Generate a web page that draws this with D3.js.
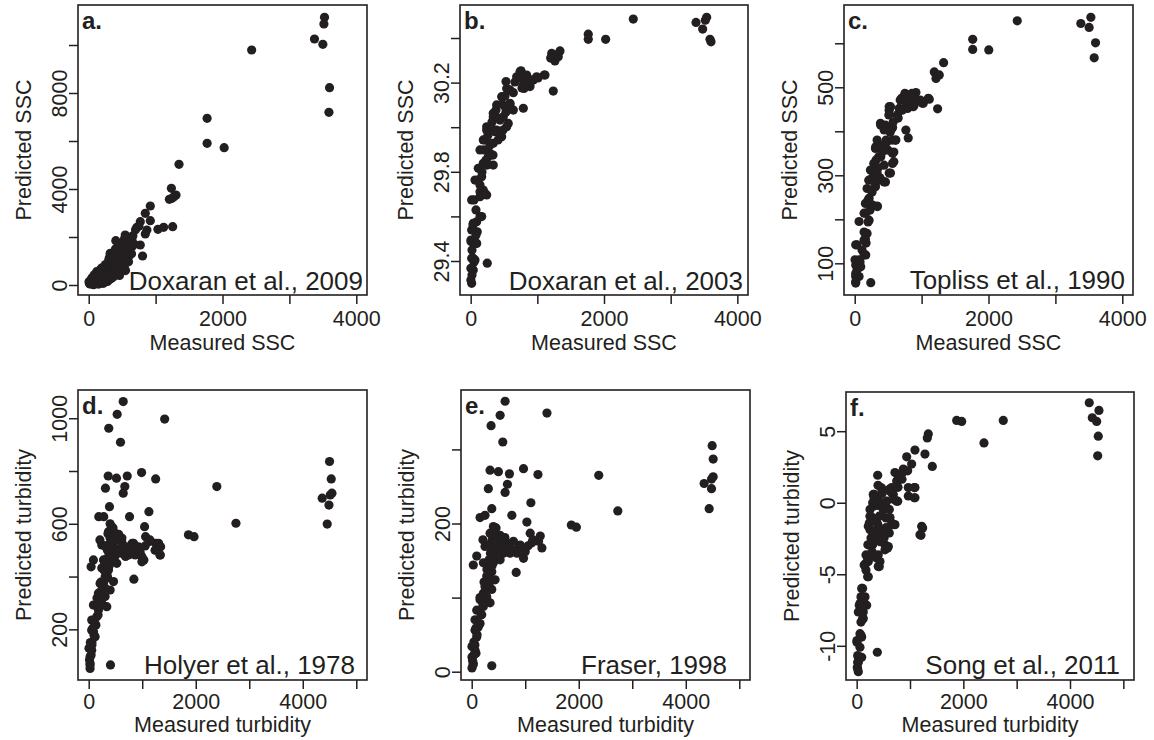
<!DOCTYPE html>
<html>
<head>
<meta charset="utf-8">
<script src="https://cdn.jsdelivr.net/npm/d3@7"></script>
<style>
  body { margin: 0; background: #ffffff; }
  svg { display: block; }
  text { font-family: "Liberation Sans", Arial, Helvetica, sans-serif; fill: #231f20; }
</style>
</head>
<body>
<svg id="chart" width="1154" height="740"></svg>
<script>
// ---- Measured vs predicted pairs, one list per algorithm ----
const doxaran2009 = [
  [3525,11154],[3516,10875],[3375,10250],[3500,10029],[2436,9792],[3600,8221],[3591,7196],
  [1770,6946],[1770,5904],[2025,5721],[1350,5029],
  [1236,4029],[1245,3613],[1305,3750],[1206,3571],[1275,3680],
  [921,3292],[846,2988],[771,2638],[921,2679],[720,2404],[870,2292],[846,2125],[1035,2321],[1120,2404],[1255,2429],
  [546,2083],[645,1904],[405,1846],[570,1738],[771,1667],[805,1208],[321,1321],[495,1458],[445,1113],[595,971],
  [520,763],[345,833],[220,696],[396,554],[471,554],[145,488],[246,417],[96,346],[45,279],[5,138],[21,42],[145,138],
  [295,208],[220,71],[370,346],[70,10],[171,279],[445,696],[120,554],[270,625],
  [400,1500],[450,1300],[380,1100],[500,1200],[350,950],[300,900],[420,850],[260,550],[330,620],[200,400],[160,350],
  [120,250],[60,180],[30,80],[90,120],[180,160],[250,280],[310,420],[40,200],[10,60],[110,50],[150,40],[200,100],
  [280,150],[340,280],[520,1050],[600,1200],[480,1700],[700,2300],[750,2450],[650,1600],[560,1350],
  [20,150],[50,100],[60,300],[80,420],[100,200],[130,380],[160,600],[180,250],[210,500],[230,760],[260,150],
  [270,400],[290,700],[300,1050],[320,250],[340,600],[360,1200],[380,450],[410,700],[430,1000],[440,1600],
  [460,400],[480,900],[510,1550],[530,1900],[550,600],[570,1100],[600,1500],[620,1800],[640,1300],[660,2050],
  [680,1700],[540,850],[470,1250],[390,1400],[310,1150],[250,850],[190,700],[110,400],[75,250]
];
const doxaran2003 = [
  [2439,30.485],[3380,30.470],[3540,30.493],[3520,30.480],[3480,30.440],[3590,30.394],[3605,30.383],
  [1764,30.417],[1764,30.394],[2025,30.394],
  [1340,30.342],[1215,30.331],[1264,30.297],[1314,30.316],[1239,30.162],[1104,30.234],[990,30.226],
  [755,30.253],[840,30.234],[890,30.182],[800,30.174],[940,30.212],[690,30.226],[790,30.085],[740,30.249],[790,30.189],[890,30.197],
  [530,30.205],[540,30.174],[640,30.155],[465,30.137],[390,30.100],[590,30.107],[640,30.077],[515,30.092],[564,30.017],
  [540,30.002],[339,30.062],[365,29.980],[240,30.002],[339,29.928],[189,29.943],[140,29.898],[264,29.868],[339,29.830],
  [189,29.838],[114,29.816],[65,29.763],[189,29.718],[240,29.696],[140,29.711],[15,29.674],[165,29.599],[90,29.576],
  [39,29.569],[99,29.531],[5,29.494],[90,29.479],[15,29.412],[65,29.404],[249,29.390],[3,29.367],[39,29.360],[3,29.315],[15,29.300],
  [490,30.137],[590,30.100],[339,30.047],[490,30.047],[240,29.987],[390,29.987],[465,29.957],[215,29.943],[315,29.928],
  [290,29.883],[240,29.838],[165,29.778],[140,29.688],[215,29.703],[140,29.599],[15,29.539],[5,29.487],[65,29.479],
  [39,29.412],[15,29.367],[1200,30.310],[1290,30.325],
  [110,29.763],[170,29.799],[230,29.853],[200,29.898],[290,29.920],[260,29.965],[350,29.987],[320,30.023],
  [410,30.041],[380,30.077],[470,30.104],[515,30.140],[590,30.167],[440,30.032],[530,30.068],[485,29.987],
  [410,29.943],[335,29.875],[245,29.830],[140,29.741],[665,30.203],[740,30.221],[815,30.203],[890,30.212],
  [770,30.176],[1010,30.221],[1115,30.234],[50,29.674],[80,29.629],[35,29.561],[80,29.517],[20,29.449],
  [50,29.396],[20,29.337]
];
const topliss1990 = [
  [2430,651],[3380,645],[3530,659],[3504,636],[3600,601],[3580,567],
  [1764,609],[1764,586],[2004,585],
  [1329,556],[1190,535],[1264,528],[1215,520],[1239,451],[1115,473],[1014,464],
  [915,488],[765,483],[715,471],[790,452],[890,460],[665,452],[515,448],[640,437],[765,403],[800,385],[515,456],
  [390,414],[440,403],[565,409],[565,380],[615,380],[565,350],[565,327],[515,305],[315,365],[390,342],[440,285],
  [340,229],[215,248],[165,214],[215,198],[65,195],[165,168],[140,153],[15,142],[165,119],[65,108],[5,108],[15,70],[240,56],[15,55],
  [750,486],[825,483],[855,486],[700,475],[850,468],[875,456],[775,460],[1025,464],[1100,475],[535,456],[510,437],
  [635,437],[385,418],[460,414],[560,407],[610,380],[335,380],[485,376],[310,361],[435,361],[585,353],[360,342],
  [285,327],[585,331],[235,312],[335,305],[535,305],[210,289],[360,289],[460,285],[185,270],[310,274],[160,236],
  [260,233],[335,230],[140,214],[185,168],[160,155],[35,142],[140,119],[15,96],[90,92],[15,77],[65,70],[15,58],
  [35,85],[80,103],[110,130],[170,146],[140,171],[200,194],[230,221],[200,244],[260,262],[305,278],[380,294],
  [260,294],[350,317],[440,323],[320,335],[410,353],[500,357],[470,380],[530,398],[380,369],[575,421],[650,430],
  [710,448],[800,466],[900,476],[680,471],[980,471],[755,485]
];
const holyer1978 = [
  [645,1063],[532,1015],[1419,997],[375,962],[594,909],
  [364,781],[519,773],[720,781],[988,794],[1251,770],[313,735],[675,741],[645,716],[2394,741],
  [388,665],[188,627],[281,627],[763,627],[1125,646],[1044,589],[2751,602],
  [4457,599],[4500,836],[4532,770],[4363,697],[4513,709],[4545,716],[4489,671],
  [1864,558],[1969,551],[1063,551],[1125,532],[1251,526],[1344,513],[1332,482],[814,526],[844,494],[969,482],
  [1031,463],[688,476],[844,390],[407,65],
  [431,589],[369,570],[495,564],[401,545],[525,539],[619,532],[244,520],[369,520],[463,513],[589,507],[713,513],
  [838,526],[932,513],[431,488],[619,488],[744,482],[870,482],[994,475],[994,456],[1307,526],[1338,482],
  [88,463],[45,437],[276,463],[431,456],[525,450],[244,432],[369,425],[307,399],[463,381],[276,362],[401,349],
  [307,324],[244,299],[338,286],[88,292],[182,273],[56,235],[150,248],[56,197],[120,172],[5,128],[56,121],
  [26,96],[26,71],[26,52],[213,374],[182,337],[244,349],
  [400,600],[450,520],[350,500],[520,500],[300,450],[350,400],[280,380],[200,300],[120,220],[90,190],[30,150],
  [60,150],[15,85],[350,470],[500,480],[560,560],[420,500],
  [25,65],[45,103],[60,141],[100,178],[135,216],[80,205],[175,254],[210,292],[155,319],[265,326],[305,357],
  [230,379],[340,395],[285,425],[380,440],[325,463],[415,478],[455,508],[545,493],[640,516],[305,516],[210,539],
  [435,539],[530,554],[620,546],[360,562],[455,584],[735,500],[870,508],[960,493],[1055,516],[1145,539],[1240,500]
];
const fraser1998 = [
  [624,365],[531,346],[362,332],[1406,349],[581,310],
  [343,272],[499,270],[705,267],[968,274],[1238,266],[2374,265],[311,247],[668,253],[624,242],[1106,228],
  [375,220],[156,208],[249,211],[750,211],[1031,202],[2730,217],[1862,198],[1956,195],[405,196],
  [4493,305],[4512,287],[4512,263],[4481,260],[4343,254],[4481,247],[4437,220],
  [343,187],[469,183],[375,176],[531,174],[656,174],[249,169],[780,176],[906,171],[1093,187],[1281,183],
  [1312,167],[437,165],[593,160],[718,160],[844,160],[1000,162],[968,153],[1125,174],[1249,176],[94,156],
  [30,144],[218,147],[405,147],[531,151],[831,134],
  [375,135],[281,129],[437,124],[249,115],[375,111],[281,101],[343,93],[218,88],[94,83],[187,77],[62,70],
  [156,65],[62,56],[94,47],[5,34],[62,29],[5,20],[30,11],[5,5],[375,8],[218,106],[156,97],
  [400,180],[460,170],[350,160],[300,140],[330,120],[250,100],[120,60],[40,40],[80,25],[15,15],
  [25,9],[45,23],[60,36],[100,50],[135,63],[80,59],[175,77],[210,90],[155,100],[265,102],[305,113],[230,121],
  [340,127],[285,138],[380,143],[325,151],[415,157],[455,167],[545,162],[640,170],[305,170],[210,178],[435,178],
  [530,184],[620,181],[360,186],[455,194],[735,165],[870,167],[960,162],[1055,170],[1145,178]
];
const song2011 = [
  [4361,6.99],[4543,6.45],[4418,5.94],[4500,5.68],[4530,4.65],[4519,3.28],[2749,5.75],[1875,5.75],[1969,5.68],[2387,4.18],
  [1343,4.81],[1324,4.53],[1281,3.40],[1418,2.54],[1093,3.68],[938,3.21],[1031,2.70],[875,2.35],[718,2.11],[812,1.87],
  [968,1.06],[1093,1.06],[968,0.47],[1093,0.35],[1219,-1.65],[1187,-2.23],
  [394,1.92],[469,0.99],[656,1.06],[750,1.52],[686,0.58],[750,0.11],[311,0.58],[405,0.23],[563,0.11],[311,-0.24],
  [499,-0.47],[656,-1.41],[718,-1.53],[249,-0.94],[375,-1.18],[218,-1.65],[437,-1.88],[311,-2.23],[469,-2.35],
  [280,-2.82],[531,-2.94],[593,-3.06],[531,-3.29],[249,-3.64],[405,-3.64],[218,-4.11],[405,-4.46],[437,-4.11],
  [174,-4.70],[218,-5.17],[94,-5.99],[156,-6.58],[62,-7.04],[187,-7.16],[124,-7.63],[31,-7.63],[124,-8.10],
  [62,-9.15],[5,-9.63],[94,-9.39],[62,-10.10],[387,-10.45],[31,-10.80],[31,-11.15],[12,-11.50],[31,-11.81],[94,-10.80],
  [862,2.11],[956,2.23],[769,1.52],[456,1.06],[612,0.94],[1081,1.06],[331,0.58],[675,0.58],[1081,0.35],[769,0.11],
  [300,0],[487,-0.12],[612,-0.47],[268,-0.94],[424,-0.94],[550,-1.06],[237,-1.41],[394,-1.53],[675,-1.53],
  [1237,-1.76],[1206,-2.28],[300,-2.00],[518,-2.00],[268,-2.46],[424,-2.58],[612,-2.11],[300,-2.94],[581,-3.17],
  [237,-3.76],[362,-3.76],[174,-4.23],[424,-4.46],[206,-5.17],[112,-5.99],[81,-6.58],[112,-7.04],[49,-7.16],
  [81,-7.63],[112,-8.10],[81,-8.34],[81,-9.27],[5,-9.75],[19,-10.68],[19,-11.15],[19,-11.62],
  [210,-2.94],[290,-2.58],[365,-2.30],[440,-2.72],[515,-2.44],[250,-1.88],[400,-1.60],[550,-1.74],[325,-1.18],
  [475,-0.89],[625,-1.04],[250,-0.47],[400,-0.19],[550,0.09],[700,0.23],[325,0.37],[475,0.65],[625,0.80],
  [400,1.22],[775,1.08],[850,1.64],[175,-3.65],[290,-3.43],[140,-4.35],[210,-3.99],[365,-3.85]
];

// ---- Axis ticks and their labels (blank = tick without label) ----
const ssctTicks = [0, 1000, 2000, 3000, 4000];
const ssctLabels = ["0", "", "2000", "", "4000"];
const turbTicks = [0, 1000, 2000, 3000, 4000, 5000];
const turbLabels = ["0", "", "2000", "", "4000", ""];
const aYTicks = [0, 2000, 4000, 6000, 8000, 10000];
const aYLabels = ["0", "", "4000", "", "8000", ""];
const bYTicks = [29.4, 29.6, 29.8, 30.0, 30.2, 30.4];
const bYLabels = ["29.4", "", "29.8", "", "30.2", ""];
const cYTicks = [100, 200, 300, 400, 500, 600];
const cYLabels = ["100", "", "300", "", "500", ""];
const dYTicks = [200, 400, 600, 800, 1000];
const dYLabels = ["200", "", "600", "", "1000"];
const eYTicks = [0, 100, 200, 300];
const eYLabels = ["0", "", "200", ""];
const fYTicks = [-10, -5, 0, 5];
const fYLabels = ["-10", "-5", "0", "5"];

// ---- Panel definitions ----
const panels = [
  { letter: "a.", note: "Doxaran et al., 2009", pts: doxaran2009, xTitle: "Measured SSC", yTitle: "Predicted SSC",
    xTicks: ssctTicks, xLabels: ssctLabels, yTicks: aYTicks, yLabels: aYLabels,
    xDomain: [-160, 4160], yDomain: [-417, 11667],
    box: { left: 78, top: 5, w: 289, h: 290 }, noteDx: 4, noteDy: 5, tickY: 31, titleY: 55 },
  { letter: "b.", note: "Doxaran et al., 2003", pts: doxaran2003, xTitle: "Measured SSC", yTitle: "Predicted SSC",
    xTicks: ssctTicks, xLabels: ssctLabels, yTicks: bYTicks, yLabels: bYLabels,
    xDomain: [-160, 4160], yDomain: [29.2475, 30.548],
    box: { left: 460, top: 5, w: 288, h: 290 }, noteDx: 5, noteDy: 5, tickY: 31, titleY: 55 },
  { letter: "c.", note: "Topliss et al., 1990", pts: topliss1990, xTitle: "Measured SSC", yTitle: "Predicted SSC",
    xTicks: ssctTicks, xLabels: ssctLabels, yTicks: cYTicks, yLabels: cYLabels,
    xDomain: [-160, 4160], yDomain: [28, 687],
    box: { left: 844, top: 5, w: 289, h: 290 }, noteDx: 8, noteDy: 6.5, tickY: 31, titleY: 55 },
  { letter: "d.", note: "Holyer et al., 1978", pts: holyer1978, xTitle: "Measured turbidity", yTitle: "Predicted turbidity",
    xTicks: turbTicks, xLabels: turbLabels, yTicks: dYTicks, yLabels: dYLabels,
    xDomain: [-200, 5200], yDomain: [8, 1107],
    box: { left: 78, top: 390, w: 289, h: 290 }, noteDx: 12, noteDy: 6.5, tickY: 28.5, titleY: 52 },
  { letter: "e.", note: "Fraser, 1998", pts: fraser1998, xTitle: "Measured turbidity", yTitle: "Predicted turbidity",
    xTicks: turbTicks, xLabels: turbLabels, yTicks: eYTicks, yLabels: eYLabels,
    xDomain: [-200, 5200], yDomain: [-11.2, 380.2],
    box: { left: 461, top: 390, w: 289, h: 290 }, noteDx: 23, noteDy: 6.5, tickY: 28.5, titleY: 52 },
  { letter: "f.", note: "Song et al., 2011", pts: song2011, xTitle: "Measured turbidity", yTitle: "Predicted turbidity",
    xTicks: turbTicks, xLabels: turbLabels, yTicks: fYTicks, yLabels: fYLabels,
    xDomain: [-200, 5200], yDomain: [-12.39, 7.74],
    box: { left: 846, top: 392, w: 288, h: 288 }, noteDx: 14, noteDy: 6.5, tickY: 28.5, titleY: 52 }
];

const ink = "#231f20";
const svg = d3.select("#chart");

panels.forEach(p => {
  const { left, top, w, h } = p.box;
  const g = svg.append("g").attr("transform", `translate(${left},${top})`);

  const x = d3.scaleLinear().domain(p.xDomain).range([0, w]);
  const y = d3.scaleLinear().domain(p.yDomain).range([h, 0]);

  // points
  g.append("g")
    .selectAll("circle")
    .data(p.pts)
    .join("circle")
    .attr("cx", d => x(d[0]))
    .attr("cy", d => y(d[1]))
    .attr("r", 4.6)
    .attr("fill", ink);

  // bottom axis
  const xa = g.append("g")
    .attr("transform", `translate(0,${h})`)
    .call(d3.axisBottom(x).tickValues(p.xTicks).tickSize(9)
      .tickFormat((d, i) => p.xLabels[i]));
  xa.select(".domain").remove();
  xa.selectAll(".tick line").attr("stroke", ink).attr("stroke-width", 1.5);
  xa.selectAll(".tick text")
    .attr("y", p.tickY).attr("dy", null)
    .attr("fill", ink).style("font-size", "21.5px");

  // left axis, labels written parallel to the axis
  const ya = g.append("g")
    .call(d3.axisLeft(y).tickValues(p.yTicks).tickSize(9)
      .tickFormat((d, i) => p.yLabels[i]));
  ya.select(".domain").remove();
  ya.selectAll(".tick line").attr("stroke", ink).attr("stroke-width", 1.5);
  ya.selectAll(".tick text")
    .attr("x", 0).attr("y", 0).attr("dy", null)
    .attr("text-anchor", "middle")
    .attr("transform", "translate(-11,0) rotate(-90)")
    .attr("fill", ink).style("font-size", "21.5px");

  // frame
  g.append("rect")
    .attr("width", w).attr("height", h)
    .attr("fill", "none").attr("stroke", ink).attr("stroke-width", 1.6);

  // panel letter
  g.append("text")
    .attr("x", 4).attr("y", 24)
    .style("font-size", "24px").style("font-weight", "bold")
    .text(p.letter);

  // method annotation
  g.append("text")
    .attr("x", w - p.noteDx).attr("y", h - p.noteDy)
    .attr("text-anchor", "end")
    .style("font-size", "26px")
    .text(p.note);

  // axis titles
  g.append("text")
    .attr("x", w / 2).attr("y", h + p.titleY)
    .attr("text-anchor", "middle")
    .style("font-size", "21.5px")
    .text(p.xTitle);
  g.append("text")
    .attr("transform", `translate(-47,${h / 2}) rotate(-90)`)
    .attr("text-anchor", "middle")
    .style("font-size", "21.5px")
    .text(p.yTitle);
});
</script>
</body>
</html>
